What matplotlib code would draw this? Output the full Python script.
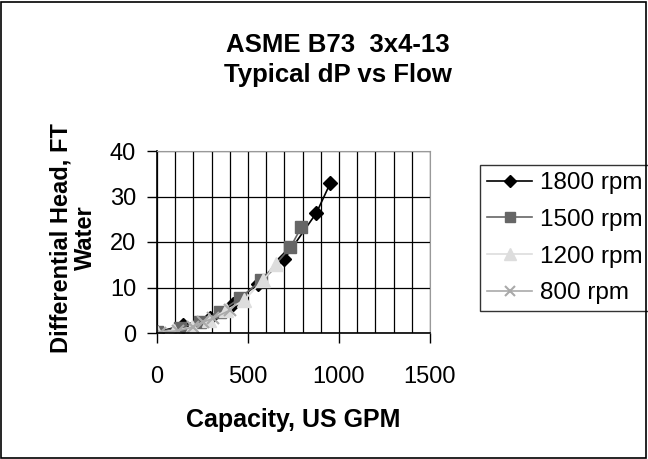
import matplotlib.pyplot as plt
from matplotlib.patches import Rectangle

plt.rcParams['font.family'] = ['Liberation Sans', 'DejaVu Sans']

# series (US GPM, ft water)
flow_1800 = [0, 145, 290, 415, 555, 700, 876, 953]
head_1800 = [0.2, 1.7, 3.3, 6.3, 10.8, 16.3, 26.4, 33.0]
flow_1500 = [0, 125, 234, 344, 454, 574, 733, 793]
head_1500 = [0.2, 1.2, 2.4, 4.6, 7.6, 11.6, 18.8, 23.3]
flow_1200 = [0, 95, 190, 285, 381, 478, 583, 656]
head_1200 = [0.2, 0.5, 1.3, 2.9, 5.0, 7.2, 11.6, 15.1]
flow_800 = [15, 116, 197, 252, 308, 400]
head_800 = [0.1, 0.5, 1.3, 2.4, 3.2, 5.0]

W, H = 648, 459
fig = plt.figure(figsize=(W / 100, H / 100), dpi=100)
ax = fig.add_axes([157 / W, 1 - 333 / H, 273 / W, 182 / H])

ax.plot(flow_1800, head_1800, color='black', marker='D', markersize=7, lw=1.2, label='1800 rpm')
ax.plot(flow_1500, head_1500, color='#666666', marker='s', markersize=9, lw=1.2, label='1500 rpm')
ax.plot(flow_1200, head_1200, color='#dddddd', marker='^', markersize=10, lw=1.2, label='1200 rpm')
ax.plot(flow_800, head_800, color='#aaaaaa', marker='x', markersize=9, mew=1.5, lw=1.2, label='800 rpm')

ax.set_xlim(0, 1500)
ax.set_ylim(0, 40)
ax.set_xticks([0, 500, 1000, 1500])
ax.set_yticks([0, 10, 20, 30, 40])
ax.set_xticks(range(0, 1501, 100), minor=True)
ax.grid(True, which='both', axis='x', color='black', lw=0.9)
ax.grid(True, which='major', axis='y', color='black', lw=0.9)
ax.set_axisbelow(True)
ax.tick_params(which='minor', length=0)
ax.tick_params(which='major', direction='out', length=7, width=1, labelsize=17)
ax.tick_params(axis='x', pad=17)
ax.tick_params(axis='y', pad=8)
for s in ['top', 'right']:
    ax.spines[s].set_color('#999999')
for s in ['left', 'bottom']:
    ax.spines[s].set_color('black')
    ax.spines[s].set_linewidth(1.2)

# axis titles and chart title placed in pixel coords of the reference
fig.text(293 / W, 1 - 427 / H, 'Capacity, US GPM', ha='center', va='baseline',
         fontsize=18, fontweight='bold')
fig.text(61 / W, 1 - 238 / H, 'Differential Head, FT', ha='center', va='center',
         rotation=90, fontsize=17, fontweight='bold')
fig.text(85 / W, 1 - 238 / H, 'Water', ha='center', va='center',
         rotation=90, fontsize=17, fontweight='bold')
fig.text(338 / W, 1 - 52 / H, 'ASME B73  3x4-13', ha='center', va='baseline',
         fontsize=18.5, fontweight='bold')
fig.text(338 / W, 1 - 82 / H, 'Typical dP vs Flow', ha='center', va='baseline',
         fontsize=18.5, fontweight='bold')

leg = ax.legend(loc='upper left', bbox_to_anchor=(480 / W, 1 - 165 / H), bbox_transform=fig.transFigure,
                frameon=True, fancybox=False, fontsize=17.5, handlelength=1.85, labelspacing=0.6,
                borderpad=0.3, handletextpad=0.3, borderaxespad=0, markerscale=0.85)
leg.get_frame().set_edgecolor('black')
leg.get_frame().set_linewidth(1)

fig.patches.append(Rectangle((0.002, 0.003), 0.995, 0.993, transform=fig.transFigure,
                             fill=False, edgecolor='black', lw=1.2))

fig.savefig('out.png', dpi=100)
